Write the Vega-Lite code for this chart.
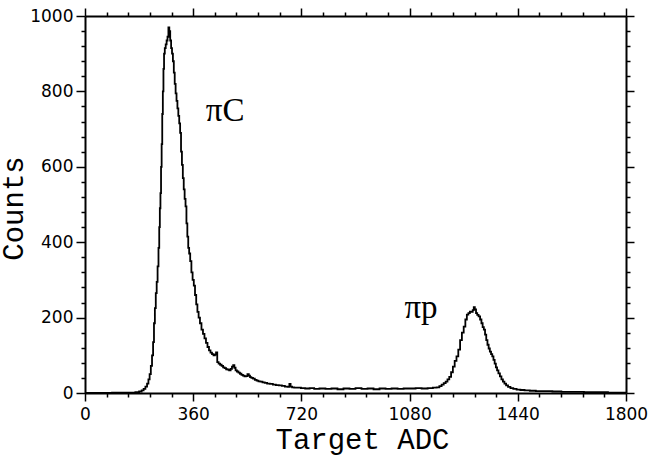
{
  "$schema": "https://vega.github.io/schema/vega-lite/v6.json",
  "width": 541,
  "height": 377,
  "autosize": {"type": "none"},
  "padding": {"left": 85, "top": 16, "right": 27, "bottom": 65},
  "background": "white",
  "config": {
    "view": {"stroke": null},
    "axis": {
      "domainColor": "black", "domainWidth": 2,
      "tickColor": "black", "tickWidth": 1.5,
      "labelColor": "black", "titleColor": "black",
      "labelFont": "DejaVu Sans", "labelFontSize": 17,
      "grid": false
    }
  },
  "data": {
    "values": [
      {"adc": 0, "counts": 0}, {"adc": 60, "counts": 0}, {"adc": 120, "counts": 1}, {"adc": 160, "counts": 1},
      {"adc": 175, "counts": 2}, {"adc": 185, "counts": 4}, {"adc": 192, "counts": 7}, {"adc": 198, "counts": 11},
      {"adc": 204, "counts": 17}, {"adc": 209, "counts": 25}, {"adc": 213, "counts": 36}, {"adc": 217, "counts": 50},
      {"adc": 221, "counts": 72}, {"adc": 225, "counts": 100}, {"adc": 228, "counts": 135}, {"adc": 231, "counts": 185},
      {"adc": 234, "counts": 225}, {"adc": 237, "counts": 265}, {"adc": 240, "counts": 295}, {"adc": 243, "counts": 336},
      {"adc": 246, "counts": 385}, {"adc": 248, "counts": 440}, {"adc": 250, "counts": 490}, {"adc": 252, "counts": 530},
      {"adc": 254, "counts": 600}, {"adc": 256, "counts": 660}, {"adc": 258, "counts": 740}, {"adc": 260, "counts": 800},
      {"adc": 262, "counts": 860}, {"adc": 264, "counts": 900}, {"adc": 267, "counts": 915}, {"adc": 270, "counts": 925},
      {"adc": 273, "counts": 935}, {"adc": 276, "counts": 945}, {"adc": 279, "counts": 970}, {"adc": 282, "counts": 960},
      {"adc": 285, "counts": 935}, {"adc": 288, "counts": 915}, {"adc": 291, "counts": 900}, {"adc": 294, "counts": 880},
      {"adc": 297, "counts": 850}, {"adc": 300, "counts": 820}, {"adc": 303, "counts": 795}, {"adc": 306, "counts": 775},
      {"adc": 309, "counts": 755}, {"adc": 312, "counts": 735}, {"adc": 315, "counts": 715}, {"adc": 318, "counts": 690},
      {"adc": 321, "counts": 640}, {"adc": 324, "counts": 605}, {"adc": 327, "counts": 570}, {"adc": 330, "counts": 540},
      {"adc": 333, "counts": 515}, {"adc": 336, "counts": 495}, {"adc": 339, "counts": 450}, {"adc": 342, "counts": 415},
      {"adc": 345, "counts": 385}, {"adc": 348, "counts": 370}, {"adc": 352, "counts": 350}, {"adc": 356, "counts": 320},
      {"adc": 360, "counts": 300}, {"adc": 364, "counts": 285}, {"adc": 368, "counts": 260}, {"adc": 372, "counts": 235},
      {"adc": 376, "counts": 215}, {"adc": 380, "counts": 200}, {"adc": 385, "counts": 185}, {"adc": 390, "counts": 168},
      {"adc": 395, "counts": 157}, {"adc": 400, "counts": 145}, {"adc": 405, "counts": 133}, {"adc": 410, "counts": 122},
      {"adc": 415, "counts": 113}, {"adc": 420, "counts": 107}, {"adc": 425, "counts": 103}, {"adc": 430, "counts": 100},
      {"adc": 434, "counts": 102}, {"adc": 438, "counts": 108}, {"adc": 442, "counts": 82}, {"adc": 447, "counts": 78},
      {"adc": 452, "counts": 75}, {"adc": 457, "counts": 72}, {"adc": 462, "counts": 68}, {"adc": 467, "counts": 66},
      {"adc": 472, "counts": 63}, {"adc": 477, "counts": 62}, {"adc": 482, "counts": 60}, {"adc": 487, "counts": 64},
      {"adc": 491, "counts": 70}, {"adc": 495, "counts": 74}, {"adc": 499, "counts": 67}, {"adc": 503, "counts": 60},
      {"adc": 508, "counts": 57}, {"adc": 513, "counts": 54}, {"adc": 518, "counts": 51}, {"adc": 523, "counts": 48},
      {"adc": 528, "counts": 46}, {"adc": 533, "counts": 44}, {"adc": 538, "counts": 45}, {"adc": 543, "counts": 50},
      {"adc": 547, "counts": 46}, {"adc": 551, "counts": 42}, {"adc": 556, "counts": 40}, {"adc": 562, "counts": 38},
      {"adc": 568, "counts": 35}, {"adc": 574, "counts": 33}, {"adc": 580, "counts": 31}, {"adc": 587, "counts": 30},
      {"adc": 594, "counts": 28}, {"adc": 602, "counts": 27}, {"adc": 610, "counts": 25}, {"adc": 620, "counts": 24},
      {"adc": 630, "counts": 22}, {"adc": 640, "counts": 21}, {"adc": 650, "counts": 20}, {"adc": 660, "counts": 19},
      {"adc": 670, "counts": 17}, {"adc": 678, "counts": 16}, {"adc": 682, "counts": 24}, {"adc": 686, "counts": 17},
      {"adc": 692, "counts": 15}, {"adc": 700, "counts": 14}, {"adc": 712, "counts": 14}, {"adc": 725, "counts": 13},
      {"adc": 740, "counts": 12}, {"adc": 755, "counts": 13}, {"adc": 770, "counts": 11}, {"adc": 790, "counts": 12},
      {"adc": 810, "counts": 11}, {"adc": 830, "counts": 12}, {"adc": 850, "counts": 10}, {"adc": 870, "counts": 12},
      {"adc": 890, "counts": 11}, {"adc": 910, "counts": 13}, {"adc": 930, "counts": 11}, {"adc": 950, "counts": 12},
      {"adc": 970, "counts": 10}, {"adc": 990, "counts": 12}, {"adc": 1010, "counts": 11}, {"adc": 1030, "counts": 12},
      {"adc": 1050, "counts": 11}, {"adc": 1070, "counts": 12}, {"adc": 1090, "counts": 12}, {"adc": 1110, "counts": 13},
      {"adc": 1130, "counts": 12}, {"adc": 1150, "counts": 13}, {"adc": 1165, "counts": 14}, {"adc": 1175, "counts": 15},
      {"adc": 1183, "counts": 18}, {"adc": 1190, "counts": 22}, {"adc": 1197, "counts": 26}, {"adc": 1203, "counts": 30},
      {"adc": 1209, "counts": 36}, {"adc": 1215, "counts": 43}, {"adc": 1221, "counts": 55}, {"adc": 1227, "counts": 70},
      {"adc": 1233, "counts": 85}, {"adc": 1239, "counts": 97}, {"adc": 1245, "counts": 115}, {"adc": 1251, "counts": 140},
      {"adc": 1257, "counts": 160}, {"adc": 1263, "counts": 176}, {"adc": 1268, "counts": 195}, {"adc": 1273, "counts": 208},
      {"adc": 1278, "counts": 212}, {"adc": 1283, "counts": 216}, {"adc": 1288, "counts": 215}, {"adc": 1292, "counts": 220},
      {"adc": 1295, "counts": 228}, {"adc": 1299, "counts": 222}, {"adc": 1303, "counts": 212}, {"adc": 1307, "counts": 207},
      {"adc": 1312, "counts": 203}, {"adc": 1317, "counts": 195}, {"adc": 1321, "counts": 185}, {"adc": 1325, "counts": 175},
      {"adc": 1329, "counts": 168}, {"adc": 1333, "counts": 155}, {"adc": 1337, "counts": 140}, {"adc": 1341, "counts": 128},
      {"adc": 1345, "counts": 118}, {"adc": 1349, "counts": 110}, {"adc": 1353, "counts": 103}, {"adc": 1357, "counts": 97},
      {"adc": 1361, "counts": 88}, {"adc": 1365, "counts": 78}, {"adc": 1369, "counts": 68}, {"adc": 1373, "counts": 60},
      {"adc": 1378, "counts": 52}, {"adc": 1383, "counts": 44}, {"adc": 1388, "counts": 36}, {"adc": 1393, "counts": 30},
      {"adc": 1398, "counts": 25}, {"adc": 1404, "counts": 20}, {"adc": 1411, "counts": 16}, {"adc": 1420, "counts": 13},
      {"adc": 1430, "counts": 11}, {"adc": 1442, "counts": 9}, {"adc": 1455, "counts": 8}, {"adc": 1470, "counts": 7},
      {"adc": 1490, "counts": 6}, {"adc": 1510, "counts": 5}, {"adc": 1540, "counts": 5}, {"adc": 1570, "counts": 4},
      {"adc": 1600, "counts": 3}, {"adc": 1640, "counts": 3}, {"adc": 1680, "counts": 2}, {"adc": 1720, "counts": 2},
      {"adc": 1760, "counts": 1}, {"adc": 1800, "counts": 1}
    ]
  },
  "layer": [
    {
      "mark": {"type": "line", "interpolate": "step", "color": "black", "strokeWidth": 1.8},
      "encoding": {
        "x": {
          "field": "adc", "type": "quantitative",
          "scale": {"domain": [0, 1800], "nice": false, "zero": false},
          "axis": {
            "orient": "bottom",
            "values": [0, 72, 144, 216, 288, 360, 432, 504, 576, 648, 720, 792, 864, 936, 1008, 1080, 1152, 1224, 1296, 1368, 1440, 1512, 1584, 1656, 1728, 1800],
            "format": "d",
            "labelExpr": "datum.value % 360 === 0 ? datum.label : ''",
            "tickSize": {"condition": {"test": "datum.value % 360 === 0", "value": 8}, "value": 4},
            "labelPadding": 5,
            "labelFlush": false,
            "labelOverlap": false,
            "title": "Target ADC",
            "titleFont": "Liberation Mono", "titleFontSize": 29, "titleFontWeight": "normal",
            "titleX": 277, "titleY": 55, "titleAlign": "center", "titleBaseline": "alphabetic"
          }
        },
        "y": {
          "field": "counts", "type": "quantitative",
          "scale": {"domain": [0, 1000], "nice": false},
          "axis": {
            "orient": "left",
            "values": [0, 40, 80, 120, 160, 200, 240, 280, 320, 360, 400, 440, 480, 520, 560, 600, 640, 680, 720, 760, 800, 840, 880, 920, 960, 1000],
            "format": "d",
            "labelExpr": "datum.value % 200 === 0 ? datum.label : ''",
            "tickSize": {"condition": {"test": "datum.value % 200 === 0", "value": 9}, "value": 4},
            "labelPadding": 3,
            "labelFlush": false,
            "labelOverlap": false,
            "title": "Counts",
            "titleFont": "Liberation Mono", "titleFontSize": 29, "titleFontWeight": "normal",
            "titleAngle": 270,
            "titleX": -72, "titleY": 192, "titleAlign": "center", "titleBaseline": "middle"
          }
        }
      }
    },
    {
      "mark": {"type": "line", "opacity": 0},
      "encoding": {
        "x": {
          "field": "adc", "type": "quantitative",
          "axis": {
            "orient": "top",
            "values": [0, 72, 144, 216, 288, 360, 432, 504, 576, 648, 720, 792, 864, 936, 1008, 1080, 1152, 1224, 1296, 1368, 1440, 1512, 1584, 1656, 1728, 1800],
            "labels": false,
            "tickSize": {"condition": {"test": "datum.value % 360 === 0", "value": 8}, "value": 4},
            "title": null
          }
        },
        "y": {
          "field": "counts", "type": "quantitative",
          "axis": {
            "orient": "right",
            "values": [0, 40, 80, 120, 160, 200, 240, 280, 320, 360, 400, 440, 480, 520, 560, 600, 640, 680, 720, 760, 800, 840, 880, 920, 960, 1000],
            "labels": false,
            "tickSize": {"condition": {"test": "datum.value % 200 === 0", "value": 8}, "value": 4},
            "title": null
          }
        }
      }
    },
    {
      "data": {
        "values": [
          {"adc": 466, "counts": 721, "label": "πC"},
          {"adc": 1118, "counts": 199, "label": "πp"}
        ]
      },
      "mark": {"type": "text", "align": "center", "baseline": "alphabetic", "font": "Liberation Serif", "fontSize": 33, "color": "black"},
      "encoding": {
        "x": {"field": "adc", "type": "quantitative", "axis": null},
        "y": {"field": "counts", "type": "quantitative", "axis": null},
        "text": {"field": "label"}
      }
    }
  ],
  "resolve": {"axis": {"x": "independent", "y": "independent"}}
}
